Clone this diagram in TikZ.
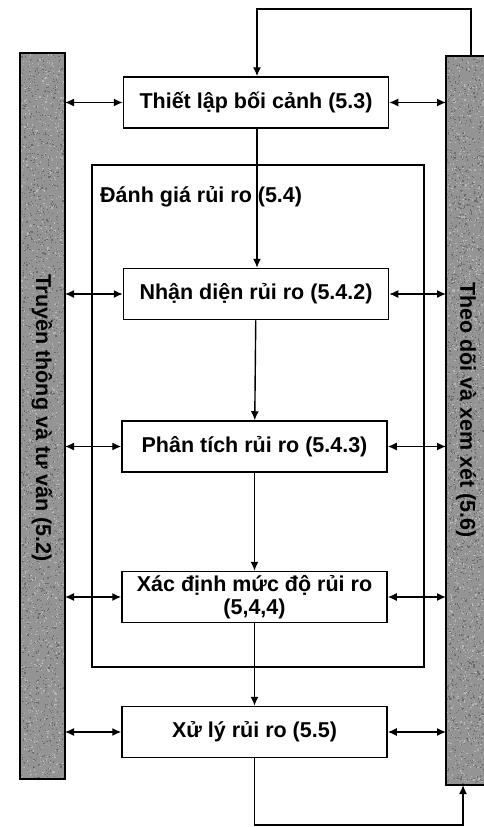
\documentclass[tikz,border=0pt]{standalone}
\usepackage{fontspec}
\setmainfont{Liberation Sans}
\usetikzlibrary{arrows.meta,calc}
\begin{document}
\begin{tikzpicture}[x=1pt,y=-1pt,
  every node/.style={font=\bfseries\fontsize{21.5}{24}\selectfont},
  stepbox/.style={draw,line width=1.5pt,fill=white,minimum width=265pt,minimum height=51pt,inner sep=1pt,align=center},
  sidebar/.style={fill=black!42},
  tip/.tip={Latex[length=9pt,width=8pt]},
  flow/.style={line width=1.4pt,-tip},
  link/.style={line width=1.4pt,tip-tip}]
\useasboundingbox (0,0) rectangle (483,827);

% side bars with a fine speckled fill
\fill[sidebar] (20,53) rectangle (65,779);
\fill[sidebar] (446,56) rectangle (490,785);
\pgfmathsetseed{11}
\foreach \i in {1,...,1600}{
  \pgfmathsetmacro{\px}{21+43*rnd}
  \pgfmathsetmacro{\py}{54+724*rnd}
  \pgfmathsetmacro{\qx}{447+36*rnd}
  \pgfmathsetmacro{\qy}{57+727*rnd}
  \fill[black!58] (\px,\py) rectangle ++(1.2,1.2);
  \fill[black!58] (\qx,\qy) rectangle ++(1.2,1.2);
}
\foreach \i in {1,...,1200}{
  \pgfmathsetmacro{\px}{21+43*rnd}
  \pgfmathsetmacro{\py}{54+724*rnd}
  \pgfmathsetmacro{\qx}{447+36*rnd}
  \pgfmathsetmacro{\qy}{57+727*rnd}
  \fill[black!28] (\px,\py) rectangle ++(1.2,1.2);
  \fill[black!28] (\qx,\qy) rectangle ++(1.2,1.2);
}
\draw[line width=1.5pt] (20,53) rectangle (65,779);
\draw[line width=1.5pt] (446,56) rectangle (490,785);
\node[rotate=-90] (comm) at (42,418) {Truyền thông và tư vấn (5.2)};
\node[rotate=-90] (mon) at (466,410) {Theo dõi và xem xét (5.6)};
\coordinate (lbar) at (65,0);
\coordinate (rbar) at (446,0);

% risk assessment frame
\draw[line width=1.2pt] (92,165) rectangle (424,667);
\node[anchor=west,inner sep=0pt] (assess) at (100,197) {Đánh giá rủi ro (5.4)};

% process steps
\node[stepbox] (ctx)  at (256,102.5) {Thiết lập bối cảnh (5.3)};
\node[stepbox] (iden) at (256,294)   {Nhận diện rủi ro (5.4.2)};
\node[stepbox] (anal) at (254.5,446.5) {Phân tích rủi ro (5.4.3)};
\node[stepbox] (eval) at (254.5,597)   {Xác định mức độ rủi ro\\[-1pt](5,4,4)};
\node[stepbox] (treat) at (254.5,732)  {Xử lý rủi ro (5.5)};

% main flow
\draw[flow] (ctx.south -| 257,0) -- (iden.north -| 257,0);
\draw[flow] (iden) -- (anal);
\draw[flow] (anal) -- (eval);
\draw[flow] (eval) -- (treat);

% links to the side bars
\foreach \n in {ctx,iden,anal,eval,treat}{
  \draw[link] (\n.west -| lbar) -- (\n.west);
  \draw[link] (\n.east) -- (\n.east -| rbar);
}

% feedback loops
\coordinate (montop) at (471,56);
\coordinate (monbot) at (463,785);
\draw[line width=1.4pt,-tip] (montop) |- (257,9) -- (ctx.north -| 257,0);
\draw[line width=1.4pt,-tip] (treat.south) |- (463,825) -- (monbot);
\end{tikzpicture}
\end{document}
